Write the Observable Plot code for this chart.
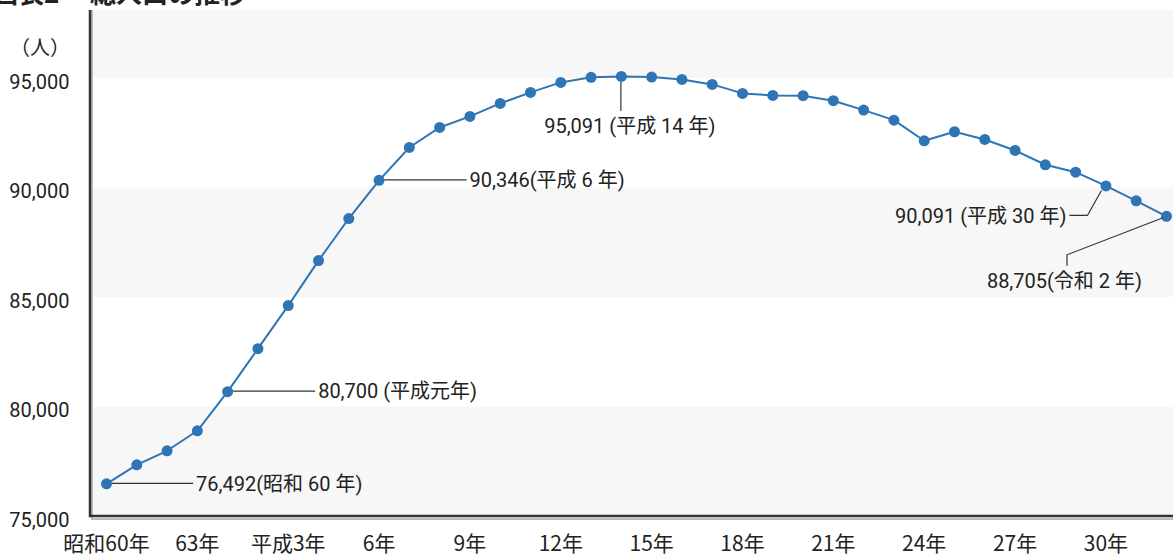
<!DOCTYPE html>
<html>
<head>
<meta charset="utf-8">
<script src="https://cdn.jsdelivr.net/npm/d3@7"></script>
<script src="https://cdn.jsdelivr.net/npm/@observablehq/plot@0.6"></script>
<style>
  html, body { margin: 0; padding: 0; background: #fff; overflow: hidden; }
  #wrap { position: relative; width: 1173px; height: 558px; overflow: hidden; }
  .title { position: absolute; top: -21px; font: bold 26px/26px "Noto Sans CJK JP", sans-serif; color: #222; white-space: nowrap; }
  .unit { position: absolute; left: 10px; top: 34px; font: 20px/26px "Noto Sans CJK JP", sans-serif; color: #222; }
  #chart { position: absolute; left: 0; top: 0; }
</style>
</head>
<body>
<div id="wrap">
  <div id="chart"></div>
  <div class="title" style="left:-8px">図表2</div>
  <div class="title" style="left:90px">総人口の推移</div>
  <div class="unit">（人）</div>
</div>
<script>
// ---- data ----
const years = [1985,1986,1987,1988,1989,1990,1991,1992,1993,1994,1995,1996,1997,1998,1999,2000,2001,2002,2003,2004,2005,2006,2007,2008,2009,2010,2011,2012,2013,2014,2015,2016,2017,2018,2019,2020];
const population = [76492,77360,78000,78914,80700,82662,84627,86683,88603,90346,91847,92761,93264,93858,94361,94818,95050,95091,95060,94955,94726,94315,94224,94210,93981,93552,93095,92153,92565,92213,91710,91057,90718,90091,89411,88705];
const xTickYears = [1985,1988,1991,1994,1997,2000,2003,2006,2009,2012,2015,2018];
const xTickLabels = ["昭和60年","63年","平成3年","6年","9年","12年","15年","18年","21年","24年","27年","30年"];
const yTicks = [75000,80000,85000,90000,95000];
const bandLows = [75000,85000,95000];
const bandHighs = [80000,90000,98100];
const noteYears = [1985,1989,1994,2002,2018,2020];
const noteTexts = ["76,492(昭和 60 年)","80,700 (平成元年)","90,346(平成 6 年)","95,091 (平成 14 年)","90,091 (平成 30 年)","88,705(令和 2 年)"];

// ---- derived tables ----
const data = years.map((y, i) => ({year: y, value: population[i]}));
const bands = bandLows.map((lo, i) => ({lo, hi: bandHighs[i]}));
const notes = noteYears.map((y, i) => ({year: y, value: population[years.indexOf(y)], text: noteTexts[i]}));
const labelOf = new Map(xTickYears.map((y, i) => [y, xTickLabels[i]]));

const blue = "#2e75b6";
const ink = "#222";
const fontNum = "Roboto, 'Noto Sans CJK JP', sans-serif";

// leader-line styles per annotation (pixel offsets from the data point)
const leaderStyle = {
  1985: {path: [[6,0],[87,0]], text: [90,0], anchor: "start"},
  1989: {path: [[6,0],[88,0]], text: [91,0], anchor: "start"},
  1994: {path: [[6,0],[88,0]], text: [91,0], anchor: "start"},
  2002: {path: [[0,6],[0,35]], text: [9,50], anchor: "middle"},
  2018: {path: [[-4,5],[-18,30],[-36,30]], text: [-39,30], anchor: "end"},
  2020: {path: [[-3,2],[-99,39],[-99,50]], text: [-24,65], anchor: "end"}
};

function leaders(index, scales) {
  const g = d3.create("svg:g");
  for (const n of notes) {
    const px = scales.x(n.year), py = scales.y(n.value);
    const st = leaderStyle[n.year];
    g.append("path")
      .attr("d", d3.line()(st.path.map(([dx, dy]) => [px + dx, py + dy])))
      .attr("fill", "none").attr("stroke", "#333").attr("stroke-width", 1.2);
    g.append("text")
      .attr("x", px + st.text[0]).attr("y", py + st.text[1])
      .attr("dy", "0.36em")
      .attr("text-anchor", st.anchor)
      .attr("font-family", fontNum)
      .attr("font-size", 20)
      .attr("fill", ink)
      .text(n.text);
  }
  return g.node();
}

function axisLines(index, scales, values, dims) {
  const g = d3.create("svg:g");
  const x0 = 90, yb = 516;
  g.append("path").attr("d", `M${x0 + 2},${dims.marginTop} V${yb + 3} H${dims.width}`)
    .attr("fill", "none").attr("stroke", "#bbb").attr("stroke-width", 2);
  g.append("path").attr("d", `M${x0},${dims.marginTop} V${yb} H${dims.width}`)
    .attr("fill", "none").attr("stroke", "#333").attr("stroke-width", 2.5);
  return g.node();
}

const chart = Plot.plot({
  width: 1173,
  height: 558,
  marginLeft: 90,
  marginRight: 0,
  marginTop: 10,
  marginBottom: 42,
  style: {background: "transparent", fontFamily: fontNum, color: ink},
  x: {domain: [1985, 2020], range: [106, 1166], label: null},
  y: {domain: [75000, 98100], range: [516, 10], label: null},
  marks: [
    Plot.rectY(bands, {y1: "lo", y2: "hi", fill: "#f7f7f7"}),
    Plot.axisY({ticks: yTicks, tickFormat: d3.format(","), tickSize: 0, tickPadding: 21, fontSize: 20, dy: 4, fill: ink, label: null}),
    Plot.axisX({ticks: xTickYears, tickFormat: d => labelOf.get(d), tickSize: 0, tickPadding: 20, fontSize: 21, fontFamily: "'Noto Sans CJK JP', sans-serif", fill: ink, label: null}),
    axisLines,
    Plot.line(data, {x: "year", y: "value", stroke: blue, strokeWidth: 2}),
    Plot.dot(data, {x: "year", y: "value", fill: blue, r: 5.5}),
    leaders
  ]
});
document.getElementById("chart").appendChild(chart);
</script>
</body>
</html>
